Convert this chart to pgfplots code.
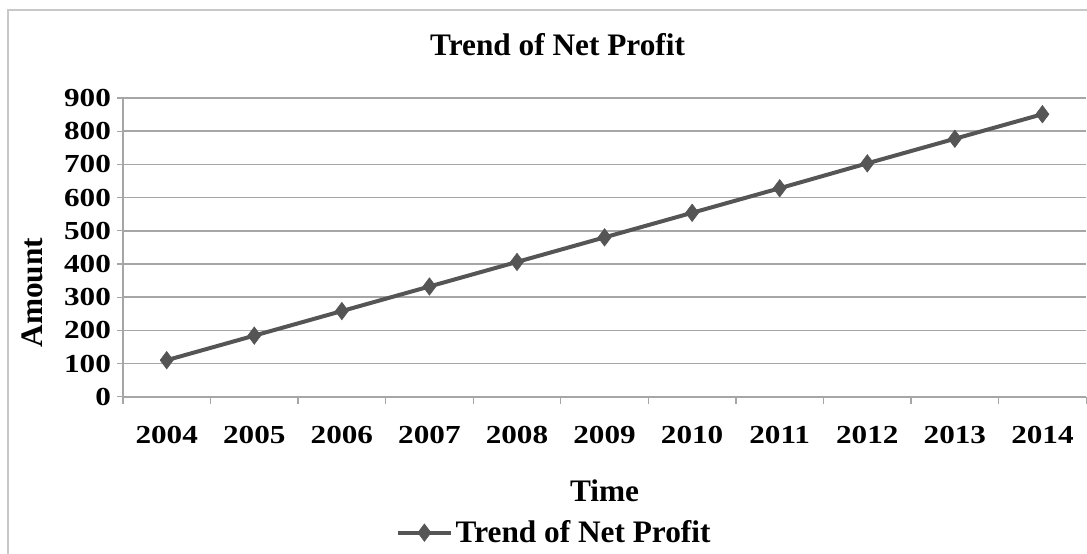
\documentclass[border=0pt]{standalone}
\usepackage{pgfplots}
\pgfplotsset{compat=1.18}
\usepackage{fontspec}
\setmainfont{Liberation Serif}
\newfontfamily\tickfont[FakeStretch=1.2]{Liberation Serif}

\definecolor{lineclr}{HTML}{555555}
\definecolor{gridclr}{HTML}{A6A6A6}
\definecolor{frameclr}{HTML}{C8C8C8}

\begin{document}
\begin{tikzpicture}
% picture units in the scope: 1 unit = 1 px of the reference, y downwards
\begin{scope}[x=0.75pt,y=-0.75pt]
\useasboundingbox (0,0) rectangle (1087,554);
\draw[frameclr, line width=1.5pt] (8,560) -- (8,10) -- (1095,10);
\node[font=\fontsize{23.5}{24}\selectfont\bfseries] at (558,45) {Trend of Net Profit};
\node[font=\fontsize{23.5}{24}\selectfont\bfseries, rotate=90] at (32,293) {Amount};
\node[font=\fontsize{23.5}{24}\selectfont\bfseries] at (605,491) {Time};
\end{scope}

\begin{axis}[
    at={(92.25pt,-297.75pt)}, anchor=south west,
    scale only axis,
    width=723pt, height=224.25pt,
    xmin=-0.5, xmax=10.5,
    ymin=0, ymax=900,
    xtick={0,...,10},
    xticklabels={2004,2005,2006,2007,2008,2009,2010,2011,2012,2013,2014},
    minor xtick={-0.5,0.5,...,10.5},
    ytick={0,100,...,900},
    major x tick style={draw=none},
    tick align=outside,
    major tick length=4.5pt,
    minor tick length=5.5pt,
    tick style={gridclr, line width=0.9pt},
    axis x line*=bottom, axis y line*=left,
    axis line style={gridclr, line width=0.9pt, -},
    ymajorgrids, grid style={gridclr, line width=1.2pt},
    ticklabel style={font=\tickfont\fontsize{19.5}{20}\selectfont\bfseries},
    xticklabel style={yshift=-14pt},
    yticklabel style={xshift=-1pt},
    /pgf/number format/assume math mode=true,
    legend style={at={(0.448,-0.455)}, anchor=center, draw=none, fill=none,
        font=\fontsize{23.5}{24}\selectfont\bfseries, inner sep=0pt},
    legend image code/.code={
        \draw[#1, mark=none] (0pt,0pt) -- (40pt,0pt);
        \draw[#1, only marks] plot coordinates {(20pt,0pt)};
    },
]
\addplot[color=lineclr, line width=3pt, mark=diamond*, mark size=6.5pt,
    mark options={fill=lineclr, line width=0.5pt}]
coordinates {
    (0,110) (1,184) (2,258) (3,332) (4,406) (5,480)
    (6,554) (7,628) (8,703) (9,777) (10,851)
};
\addlegendentry{Trend of Net Profit}
\end{axis}
\end{tikzpicture}
\end{document}
